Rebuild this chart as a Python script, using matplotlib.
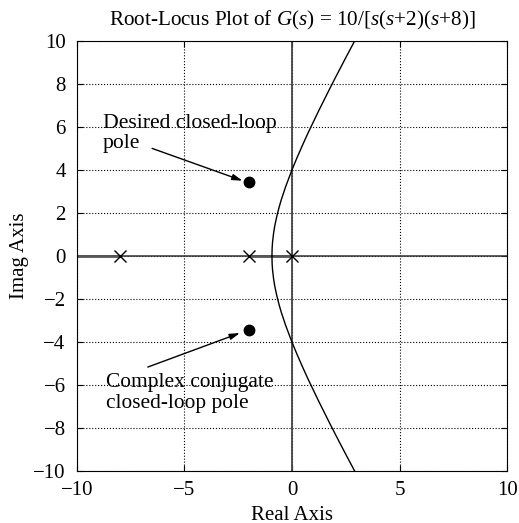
import matplotlib
matplotlib.use("Agg")
import matplotlib.pyplot as plt

plt.rcParams['font.family'] = ['Liberation Serif', 'DejaVu Serif']
plt.rcParams['mathtext.fontset'] = 'custom'
plt.rcParams['mathtext.rm'] = 'Liberation Serif'
plt.rcParams['mathtext.it'] = 'Liberation Serif:italic'

# open-loop poles
pole_re = [-8, -2, 0]
pole_im = [0, 0, 0]

# upper branch of the complex locus, lower one is its mirror
locus_re = [-0.93, -0.92, -0.9, -0.85, -0.8, -0.7, -0.6, -0.5, -0.3, 0.0, 0.25,
            0.5, 0.75, 1.0, 1.25, 1.5, 1.75, 2.0, 2.25, 2.5, 2.75, 3.0]
locus_im = [0.0, 0.37, 0.66, 1.08, 1.39, 1.86, 2.25, 2.6, 3.2, 4.0, 4.6,
            5.17, 5.72, 6.24, 6.76, 7.26, 7.76, 8.25, 8.73, 9.21, 9.68, 10.15]

# real-axis parts of the locus
seg_re = [[-2, 0], [-10, -8]]

# desired closed-loop poles
cl_re = [-2, -2]
cl_im = [3.46, -3.46]

fig = plt.figure(figsize=(5.19, 5.23), dpi=100)
ax = fig.add_axes([0.148, 0.099, 0.829, 0.823])

ax.axhline(0, color='#333333', linewidth=1.1, zorder=2)
ax.axvline(0, color='#444444', linewidth=1.3, zorder=2)

for s in seg_re:
    ax.plot(s, [0, 0], color='#555555', linewidth=2.0, zorder=2)

ax.plot(locus_re, locus_im, color='black', linewidth=1.0, zorder=3)
ax.plot(locus_re, [-v for v in locus_im], color='black', linewidth=1.0, zorder=3)

ax.plot(pole_re, pole_im, 'x', color='black', markersize=9, markeredgewidth=1.0, zorder=4)
ax.plot(cl_re, cl_im, 'o', color='black', markersize=7.5, zorder=4)

arrow = dict(arrowstyle='-|>,head_length=0.6,head_width=0.18', color='black',
             linewidth=1.0, shrinkA=0, shrinkB=0)
ax.annotate('', xy=(-2.3, 3.5), xytext=(-6.5, 5.0), arrowprops=arrow)
ax.annotate('', xy=(-2.42, -3.58), xytext=(-6.7, -5.16), arrowprops=arrow)

ax.text(-8.8, 6.62, 'Desired closed-loop\npole', fontsize=15.6, ha='left', va='top',
        linespacing=1.12)
ax.text(-8.65, -5.43, 'Complex conjugate\nclosed-loop pole', fontsize=15.4, ha='left',
        va='top', linespacing=1.12)

ax.set_xlim(-10, 10)
ax.set_ylim(-10, 10)
ax.set_xticks([-10, -5, 0, 5, 10])
ax.set_yticks([-10, -8, -6, -4, -2, 0, 2, 4, 6, 8, 10])
ax.tick_params(direction='in', top=True, right=True, length=4, labelsize=15)
ax.tick_params(axis='x', pad=7)
ax.tick_params(axis='y', pad=8)
ax.grid(True, linestyle=':', color='black', linewidth=0.8)

ax.set_title('Root-Locus Plot of $G(s)$ = 10/[$s$($s$+2)($s$+8)]', fontsize=15.2, pad=11)
ax.set_xlabel('Real Axis', fontsize=15, labelpad=4)
ax.set_ylabel('Imag Axis', fontsize=15, labelpad=3)

fig.savefig('out.png', dpi=100)
